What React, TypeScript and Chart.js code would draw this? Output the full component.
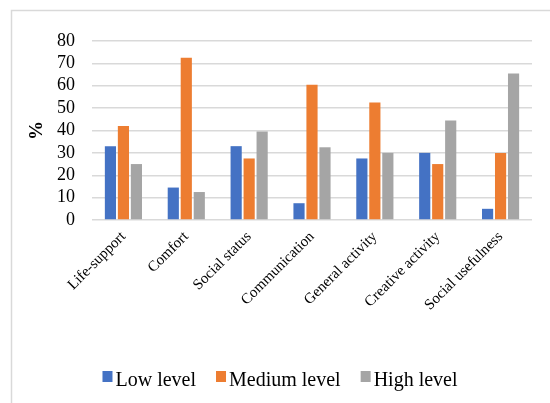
import React, { useEffect, useRef } from "react";
import { Chart, registerables } from "chart.js";

Chart.register(...registerables);

const categories = [
  "Life-support",
  "Comfort",
  "Social status",
  "Communication",
  "General activity",
  "Creative activity",
  "Social usefulness",
];
const lowLevel = [33, 14.5, 33, 7.5, 27.5, 30, 5];
const mediumLevel = [42, 72.5, 27.5, 60.5, 52.5, 25, 30];
const highLevel = [25, 12.5, 39.5, 32.5, 30, 44.5, 65.5];
const seriesNames = ["Low level", "Medium level", "High level"];
const seriesColors = ["#4472C4", "#ED7D31", "#A5A5A5"];
const yTicks = [0, 10, 20, 30, 40, 50, 60, 70, 80];

const FONT = "'Liberation Serif', 'Times New Roman', serif";
Chart.defaults.font.family = FONT;

const frame = {
  id: "frame",
  beforeDraw(chart: any) {
    const ctx = chart.ctx;
    ctx.save();
    ctx.strokeStyle = "#d9d9d9";
    ctx.lineWidth = 1.5;
    ctx.beginPath();
    ctx.moveTo(11.5, chart.height);
    ctx.lineTo(11.5, 10.5);
    ctx.lineTo(chart.width, 10.5);
    ctx.stroke();
    ctx.restore();
  },
};

// legend drawn in serif, Excel-like spacing (box close to its text)
const serifLegend = {
  id: "serifLegend",
  afterDraw(chart: any) {
    const ctx = chart.ctx;
    ctx.save();
    ctx.font = `20px ${FONT}`;
    ctx.textBaseline = "alphabetic";
    ctx.textAlign = "left";
    const box = 10;
    const gapBoxText = 3;
    const gapItems = 20;
    const items = chart.data.datasets.map((ds: any) => ({
      text: ds.label,
      color: ds.backgroundColor,
      w: ctx.measureText(ds.label).width,
    }));
    const total =
      items.reduce((s: number, it: any) => s + box + gapBoxText + it.w, 0) +
      gapItems * (items.length - 1);
    let x = 280 - total / 2;
    const baseline = 386;
    items.forEach((it: any) => {
      ctx.fillStyle = it.color;
      ctx.fillRect(x, baseline - 15, box, 11);
      x += box + gapBoxText;
      ctx.fillStyle = "#000";
      ctx.fillText(it.text, x, baseline);
      x += it.w + gapItems;
    });
    ctx.restore();
  },
};

export default function App() {
  const ref = useRef<HTMLCanvasElement | null>(null);
  useEffect(() => {
    if (!ref.current) return;
    const chart = new Chart(ref.current, {
      type: "bar",
      data: {
        labels: categories,
        datasets: [lowLevel, mediumLevel, highLevel].map((d, i) => ({
          label: seriesNames[i],
          data: d,
          backgroundColor: seriesColors[i],
          categoryPercentage: 0.62,
          barPercentage: 0.86,
        })),
      },
      plugins: [frame, serifLegend],
      options: {
        animation: false,
        responsive: false,
        devicePixelRatio: 1,
        layout: { padding: { top: 41, left: 12, right: 18, bottom: 0 } },
        plugins: {
          tooltip: { enabled: false },
          legend: { display: false },
        },
        scales: {
          x: {
            grid: { display: false },
            border: { display: false },
            ticks: {
              minRotation: 45,
              maxRotation: 45,
              autoSkip: false,
              color: "#000",
              padding: 0,
              font: { family: FONT, size: 15 },
            },
            afterFit(scale: any) {
              scale.height = 183;
            },
          },
          y: {
            min: 0,
            max: 80,
            afterBuildTicks(scale: any) {
              scale.ticks = yTicks.map((v) => ({ value: v }));
            },
            grid: { color: "#d9d9d9", lineWidth: 1.5, drawTicks: false },
            border: { display: false },
            ticks: {
              autoSkip: false,
              color: "#000",
              padding: 17,
              font: { family: FONT, size: 18 },
            },
            title: {
              display: true,
              text: "%",
              color: "#000",
              font: { family: FONT, size: 19, weight: "bold" },
              padding: { top: 14, bottom: 0 },
            },
            afterFit(scale: any) {
              scale.width = 80;
            },
          },
        },
      },
    });
    return () => chart.destroy();
  }, []);
  return (
    <div style={{ position: "fixed", left: 0, top: 0, width: 550, height: 403, background: "#fff" }}>
      <canvas ref={ref} width={550} height={403} style={{ width: 550, height: 403 }} />
    </div>
  );
}
